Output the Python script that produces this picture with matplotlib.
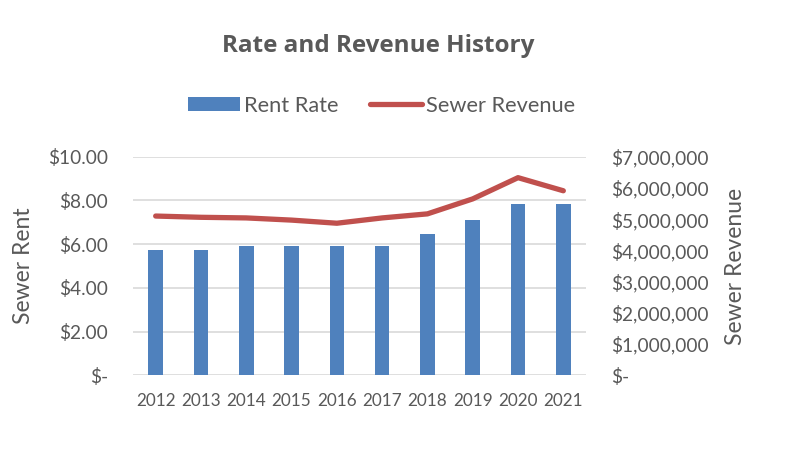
import matplotlib
matplotlib.use("Agg")
import matplotlib.pyplot as plt
from matplotlib.ticker import FuncFormatter
from matplotlib.patches import Patch
from matplotlib.lines import Line2D

years = ["2012", "2013", "2014", "2015", "2016", "2017", "2018", "2019", "2020", "2021"]
rent_rate = [5.75, 5.75, 5.90, 5.90, 5.90, 5.90, 6.48, 7.12, 7.85, 7.85]
sewer_revenue = [5100000, 5060000, 5040000, 4970000, 4870000, 5040000, 5170000, 5650000, 6330000, 5910000]
left_ticks = [0, 2, 4, 6, 8, 10]
right_ticks = [0, 1e6, 2e6, 3e6, 4e6, 5e6, 6e6, 7e6]

FONT = ["Lato", "DejaVu Sans"]
TFONT = ["Open Sans", "DejaVu Sans"]
GRAY = "#595959"
BLUE = "#4f81bd"
RED = "#c0504d"

fig = plt.figure(figsize=(7.98, 4.61), dpi=100)
ax = fig.add_axes([0.1667, 0.186, 0.5676, 0.474])
x = list(range(len(years)))
ax.bar(x, rent_rate, width=0.32, color=BLUE, zorder=2)
ax.set_xlim(-0.5, len(years) - 0.5)
ax.set_ylim(0, 10)
ax.set_yticks(left_ticks)
ax.yaxis.set_major_formatter(FuncFormatter(lambda v, p: "$-" if v == 0 else f"${v:,.2f}"))
ax.set_xticks(x)
ax.set_xticklabels(years)
ax.grid(axis="y", color="#d9d9d9", linewidth=1.2, zorder=0)
ax.set_axisbelow(True)
for s in ax.spines.values():
    s.set_visible(False)
ax.tick_params(axis="both", length=0, colors=GRAY)
ax.tick_params(axis="y", pad=18, labelsize=13.8)
ax.tick_params(axis="x", pad=13, labelsize=12.3)
for lab in ax.get_yticklabels() + ax.get_xticklabels():
    lab.set_family(FONT)
ax.set_ylabel("Sewer Rent", fontsize=16.5, color=GRAY, family=FONT, labelpad=10)

ax2 = ax.twinx()
ax2.plot(x, sewer_revenue, color=RED, linewidth=3.8, solid_capstyle="round", zorder=3)
ax2.set_ylim(0, 7e6)
ax2.set_yticks(right_ticks)
ax2.yaxis.set_major_formatter(FuncFormatter(lambda v, p: "$-" if v == 0 else f"${v:,.0f}"))
for s in ax2.spines.values():
    s.set_visible(False)
ax2.tick_params(axis="y", length=0, colors=GRAY, labelsize=13.8, pad=18)
for lab in ax2.get_yticklabels():
    lab.set_family(FONT)
    lab.set_horizontalalignment("left")
ax2.set_ylabel("Sewer Revenue", fontsize=16.5, color=GRAY, family=FONT, labelpad=12)

fig.text(0.474, 0.90, "Rate and Revenue History", ha="center", va="center",
         fontsize=17.5, fontweight="bold", color=GRAY, family=TFONT)

handles = [Patch(facecolor=BLUE, edgecolor="none"),
           Line2D([0], [0], color=RED, linewidth=3.8, solid_capstyle="round")]
leg = fig.legend(handles, ["Rent Rate", "Sewer Revenue"], loc="center",
                 bbox_to_anchor=(0.478, 0.771), ncol=2, frameon=False,
                 prop={"family": FONT, "size": 15.7}, handlelength=2.4,
                 handleheight=0.6, handletextpad=0.18, columnspacing=1.45)
for t in leg.get_texts():
    t.set_color(GRAY)

fig.savefig("out.png", dpi=100)
